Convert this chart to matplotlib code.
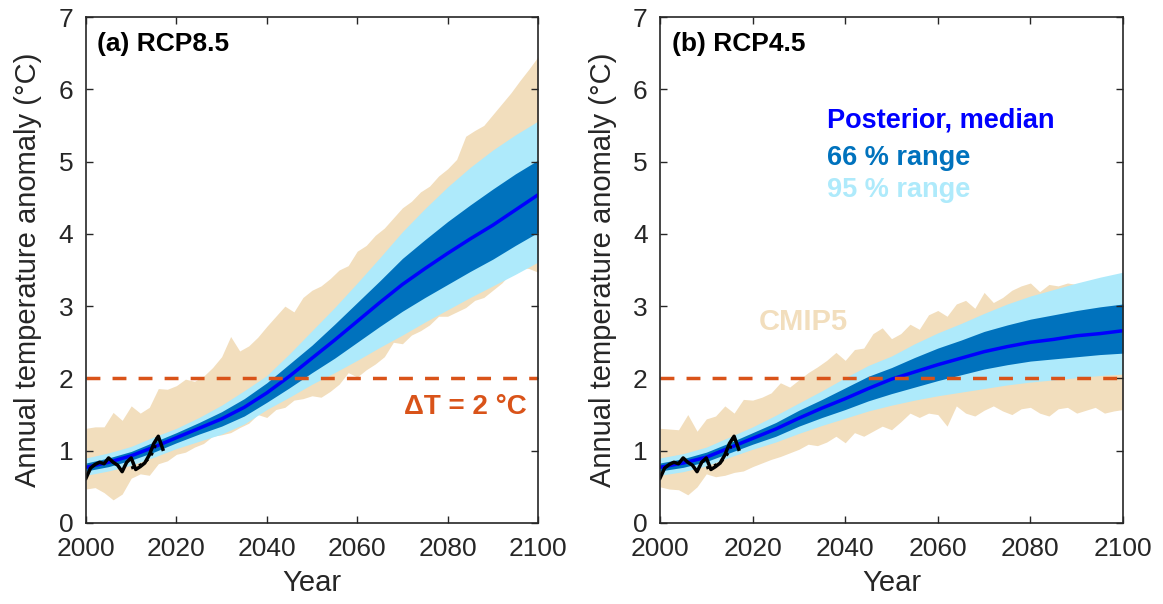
import matplotlib
matplotlib.use("Agg")
import matplotlib.pyplot as plt

plt.rcParams['font.family'] = ['Liberation Sans', 'DejaVu Sans']

# posterior ranges, every 5 years
years5 = list(range(2000, 2101, 5))

med_85 = [0.77, 0.84, 0.93, 1.05, 1.18, 1.31, 1.44, 1.60, 1.80, 2.03, 2.28, 2.53, 2.79, 3.05, 3.30, 3.52, 3.73, 3.93, 4.12, 4.33, 4.54]
lo66_85 = [0.72, 0.78, 0.87, 0.98, 1.11, 1.23, 1.34, 1.48, 1.67, 1.87, 2.08, 2.28, 2.50, 2.72, 2.93, 3.12, 3.30, 3.48, 3.65, 3.84, 4.02]
hi66_85 = [0.83, 0.90, 0.99, 1.12, 1.25, 1.39, 1.54, 1.72, 1.94, 2.20, 2.46, 2.75, 3.05, 3.35, 3.66, 3.92, 4.17, 4.40, 4.62, 4.83, 5.02]
lo95_85 = [0.66, 0.72, 0.80, 0.91, 1.03, 1.13, 1.23, 1.37, 1.57, 1.74, 1.92, 2.08, 2.25, 2.43, 2.60, 2.78, 2.95, 3.12, 3.28, 3.44, 3.61]
hi95_85 = [0.90, 0.97, 1.06, 1.19, 1.31, 1.46, 1.63, 1.83, 2.04, 2.34, 2.66, 2.98, 3.32, 3.67, 4.03, 4.35, 4.65, 4.92, 5.16, 5.37, 5.56]

med_45 = [0.77, 0.83, 0.91, 1.04, 1.17, 1.30, 1.45, 1.59, 1.72, 1.86, 1.99, 2.09, 2.19, 2.28, 2.37, 2.44, 2.50, 2.54, 2.59, 2.62, 2.66]
lo66_45 = [0.72, 0.77, 0.85, 0.97, 1.09, 1.20, 1.34, 1.46, 1.57, 1.69, 1.79, 1.88, 1.97, 2.05, 2.13, 2.19, 2.24, 2.27, 2.30, 2.33, 2.35]
hi66_45 = [0.83, 0.89, 0.98, 1.11, 1.25, 1.39, 1.56, 1.71, 1.87, 2.03, 2.15, 2.29, 2.42, 2.53, 2.65, 2.74, 2.82, 2.88, 2.94, 2.99, 3.03]
lo95_45 = [0.66, 0.71, 0.79, 0.91, 1.02, 1.12, 1.24, 1.35, 1.45, 1.55, 1.63, 1.70, 1.76, 1.81, 1.86, 1.91, 1.95, 1.98, 2.01, 2.04, 2.06]
hi95_45 = [0.90, 0.96, 1.05, 1.19, 1.33, 1.49, 1.66, 1.83, 2.01, 2.18, 2.31, 2.48, 2.63, 2.76, 2.90, 3.03, 3.14, 3.23, 3.32, 3.40, 3.47]

# CMIP5 envelope, every 2 years
years2 = list(range(2000, 2101, 2))

cmip_hi_85 = [1.31, 1.33, 1.33, 1.53, 1.42, 1.62, 1.52, 1.60, 1.86, 1.85, 1.90, 1.99, 1.96, 2.03, 2.15, 2.30, 2.58, 2.38, 2.45, 2.57,
              2.72, 2.86, 3.00, 2.92, 3.12, 3.22, 3.28, 3.38, 3.50, 3.56, 3.76, 3.84, 3.98, 4.08, 4.22, 4.36, 4.45, 4.58, 4.66, 4.80,
              4.90, 5.03, 5.35, 5.43, 5.50, 5.65, 5.80, 5.95, 6.12, 6.28, 6.45]
cmip_lo_85 = [0.47, 0.49, 0.42, 0.32, 0.40, 0.62, 0.68, 0.66, 0.82, 0.86, 0.95, 0.98, 1.05, 1.10, 1.20, 1.22, 1.25, 1.32, 1.38, 1.50,
              1.46, 1.57, 1.60, 1.70, 1.72, 1.76, 1.74, 1.82, 1.92, 2.08, 2.02, 2.12, 2.20, 2.30, 2.50, 2.48, 2.60, 2.66, 2.74, 2.86,
              2.86, 2.92, 2.98, 3.08, 3.12, 3.22, 3.32, 3.46, 3.54, 3.52, 3.47]

cmip_hi_45 = [1.31, 1.30, 1.29, 1.50, 1.27, 1.44, 1.48, 1.62, 1.52, 1.71, 1.70, 1.74, 1.80, 1.94, 1.88, 1.98, 2.08, 2.16, 2.25, 2.36,
              2.25, 2.40, 2.42, 2.62, 2.70, 2.55, 2.62, 2.75, 2.68, 2.88, 2.94, 2.86, 3.03, 3.08, 2.97, 3.19, 3.05, 3.12, 3.22, 3.28,
              3.32, 3.20, 3.30, 3.28, 3.32, 3.30, 3.34, 3.33, 3.36, 3.38, 3.40]
cmip_lo_45 = [0.50, 0.47, 0.46, 0.39, 0.50, 0.68, 0.64, 0.66, 0.70, 0.72, 0.78, 0.83, 0.88, 0.92, 0.97, 1.02, 1.09, 1.07, 1.12, 1.20,
              1.11, 1.25, 1.20, 1.27, 1.34, 1.29, 1.40, 1.52, 1.46, 1.52, 1.50, 1.34, 1.62, 1.52, 1.48, 1.56, 1.62, 1.55, 1.50, 1.58,
              1.60, 1.52, 1.48, 1.58, 1.60, 1.52, 1.56, 1.60, 1.52, 1.55, 1.57]

# observations
obs_years = list(range(2000, 2018))
obs_vals = [0.62, 0.76, 0.81, 0.84, 0.82, 0.90, 0.84, 0.80, 0.71, 0.84, 0.90, 0.74, 0.78, 0.83, 0.94, 1.10, 1.20, 1.02]
obs2_years = list(range(2010, 2017))
obs2_vals = [0.76, 0.78, 0.80, 0.84, 0.90, 1.00, 1.24]

c_cmip = '#F2DEBD'
c_95 = '#AEEAFB'
c_66 = '#0072BD'
c_med = '#0000FF'
c_2deg = '#D95319'
c_axis = '#262626'


def drawPanel(ax, cmipHi, cmipLo, lo95, hi95, lo66, hi66, med, title, ylabX):
    ax.fill_between(years2, cmipLo, cmipHi, color=c_cmip, lw=0)
    ax.fill_between(years5, lo95, hi95, color=c_95, lw=0)
    ax.fill_between(years5, lo66, hi66, color=c_66, lw=0)
    ax.plot(years5, med, color=c_med, lw=2.5)
    ax.plot(obs_years, obs_vals, color='black', lw=2.5)
    ax.plot(obs2_years, obs2_vals, color='black', lw=2.2, ls=':')
    ax.axhline(2, color=c_2deg, lw=2.5, dashes=(4, 3.5))

    ax.set_xlim(2000, 2100)
    ax.set_ylim(0, 7)
    ax.set_xticks(range(2000, 2101, 20))
    ax.set_yticks(range(0, 8))
    ax.tick_params(direction='in', top=True, right=True, length=5, width=1,
                   labelsize=19, colors=c_axis)
    ax.tick_params(axis='x', pad=10)
    ax.tick_params(axis='y', pad=9)
    for s in ax.spines.values():
        s.set_color(c_axis)
        s.set_linewidth(1.2)
    ax.set_xlabel('Year', fontsize=21, color=c_axis)
    ax.set_ylabel('Annual temperature anomaly (°C)', fontsize=21, color=c_axis)
    ax.xaxis.set_label_coords(0.5, -0.09)
    ax.yaxis.set_label_coords(ylabX, 0.5)
    ax.text(0.025, 6.62, title, transform=ax.get_yaxis_transform(), fontsize=19,
            fontweight='bold', va='center', ha='left')


fig = plt.figure(figsize=(11.63, 6.04), dpi=100)
ax1 = fig.add_axes([86 / 1163, 1 - 523 / 604, 452 / 1163, 506 / 604])
ax2 = fig.add_axes([660 / 1163, 1 - 523 / 604, 463 / 1163, 506 / 604])

drawPanel(ax1, cmip_hi_85, cmip_lo_85, lo95_85, hi95_85, lo66_85, hi66_85, med_85, '(a) RCP8.5', -0.097)
drawPanel(ax2, cmip_hi_45, cmip_lo_45, lo95_45, hi95_45, lo66_45, hi66_45, med_45, '(b) RCP4.5', -0.093)

ax1.text(0.975, 1.6, 'ΔT = 2 °C', transform=ax1.get_yaxis_transform(), color=c_2deg,
         fontsize=20, fontweight='bold', ha='right', va='center')

ax2.text(0.36, 5.57, 'Posterior, median', transform=ax2.get_yaxis_transform(), color=c_med,
         fontsize=19.5, fontweight='bold', ha='left', va='center')
ax2.text(0.36, 5.05, '66 % range', transform=ax2.get_yaxis_transform(), color=c_66,
         fontsize=19.5, fontweight='bold', ha='left', va='center')
ax2.text(0.36, 4.6, '95 % range', transform=ax2.get_yaxis_transform(), color=c_95,
         fontsize=19.5, fontweight='bold', ha='left', va='center')
ax2.text(2031, 2.78, 'CMIP5', color=c_cmip, fontsize=21, fontweight='bold',
         ha='center', va='center')

fig.savefig('out.png', dpi=100)
